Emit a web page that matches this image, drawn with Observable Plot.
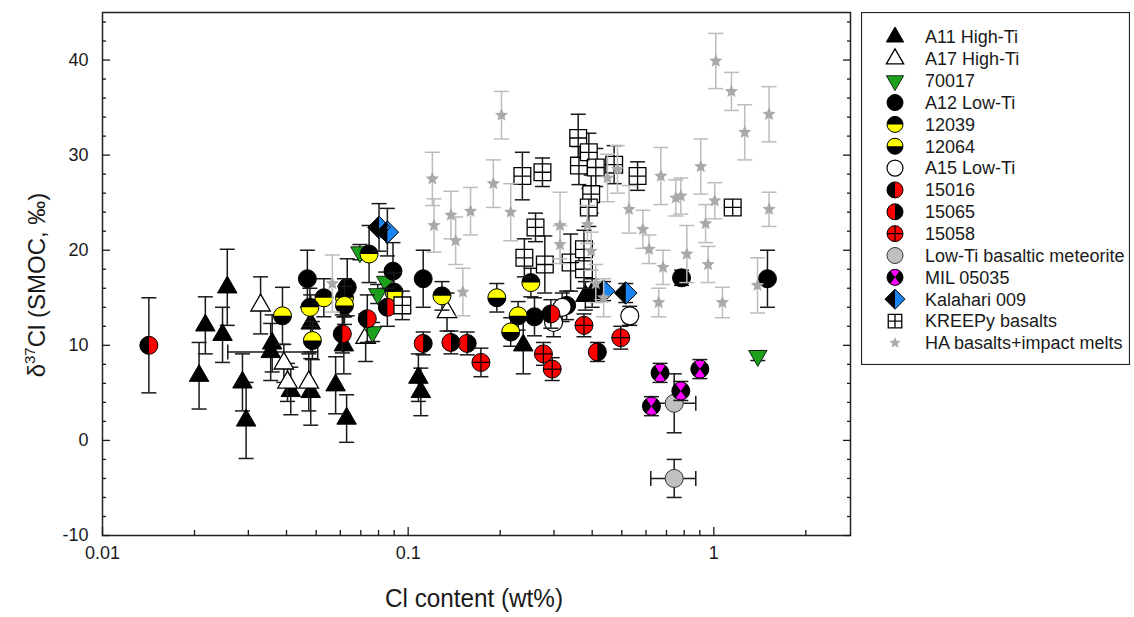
<!DOCTYPE html>
<html><head><meta charset="utf-8">
<script src="https://cdn.jsdelivr.net/npm/d3@7"></script>
<script src="https://cdn.jsdelivr.net/npm/@observablehq/plot@0.6"></script>
<style>
html,body{margin:0;padding:0;background:#fff;}
#wrap{position:relative;width:1134px;height:617px;overflow:hidden;font-family:"Liberation Sans",Arial,sans-serif;}
#wrap svg{display:block;}
#legend{position:absolute;left:861px;top:12px;}
</style></head>
<body><div id="wrap"><div id="legend"></div></div>
<script>
// ---------- data: [Cl wt%, d37Cl, y error, (x low, x high)] ----------
const a11 = [[0.0207,6.8,3.5],[0.0217,12.1,3],[0.0256,16.1,4],[0.0247,11.1,2.9],[0.0287,6.1,3],[0.0295,2.1,4],
  [0.0359,10.2,3],[0.0355,9.3,3,0.0257,0.0506],[0.0413,5.2,2.5],[0.048,5.1,3.5],[0.048,12.3,3],[0.0579,5.8,3],
  [0.0629,2.3,2.5],[0.0616,10.0,3],[0.108,6.6,2.5],[0.110,5.1,2.5],[0.238,10.0,3],[0.38,15.2,1.5],[0.40,15.5,1.5]];
const a17 = [[0.0329,14.2,3],[0.0392,8.1,2],[0.0403,6.1,2],[0.0473,6.1,3],[0.0726,10.8,2.5],[0.134,13.5,2]];
const s70017 = [[0.0695,19.8,0.8],[0.0795,15.4,1],[0.0844,16.7,1],[0.0765,11.4,1],[1.393,8.9,0.5]];
const a12 = [[0.0468,17.0,3],[0.0632,16.1,3],[0.0892,17.8,3],[0.112,17.0,3],[0.259,13.0,2],[0.33,14.2,1.5],[0.784,17.1,0.8],[1.498,17.0,3]];
const s12039 = [[0.0477,14.0,2],[0.053,15.0,2],[0.0619,15.0,2],[0.0745,19.6,3],[0.0899,15.6,2],[0.129,15.2,1.5],[0.252,16.6,1.5]];
const s12064 = [[0.0388,13.1,3],[0.0486,10.5,2],[0.0619,14.2,2],[0.195,15.0,1.5],[0.229,13.1,1.5],[0.2165,11.4,1.5]];
const a15 = [[0.299,12.4,1.5],[0.319,14.0,1.5],[0.531,13.1,1]];
const s15016 = [[0.01418,10.0,5],[0.0609,11.2,2],[0.0735,12.8,2.5],[0.0855,14.0,2],[0.293,13.3,1.5]];
const s15065 = [[0.112,10.2,1.2],[0.138,10.3,1.2],[0.156,10.2,1.2],[0.416,9.3,1]];
const s15058 = [[0.173,8.2,1.5],[0.277,9.1,1.2],[0.296,7.5,1.2],[0.376,12.1,1.2],[0.496,10.8,1.2]];
const meteorite = [[0.742,3.9,3.1,0.622,0.873],[0.742,-4.0,2,0.622,0.873]];
const mil05035 = [[0.667,7.1,1],[0.90,7.5,1],[0.78,5.2,1],[0.625,3.6,1]];
const kalahari = [[0.0803,22.4,2.5],[0.0855,21.9,2.5],[0.436,15.7,1],[0.515,15.5,1]];
const kreep = [[0.0957,14.2,1.5],[0.2364,27.8,2.5],[0.275,28.2,1.5],[0.261,22.4,1.5],[0.24,19.2,2],[0.28,18.5,3],
  [0.36,31.8,2.5],[0.362,28.9,2],[0.39,30.3,2],[0.411,28.7,2],[0.472,29.0,2],[0.563,27.8,1.5],[0.397,25.9,2],
  [0.39,24.5,2],[0.34,18.7,3],[0.376,20.1,2],[0.376,18.0,2],[1.153,24.5,0.5]];
const haMelts = [[0.0565,16.5,3],[0.12,27.5,2.8],[0.1215,22.6,2.8],[0.138,23.7,2.5],[0.143,21.0,2.5],[0.16,24.1,2.5],
  [0.151,15.6,2.5],[0.19,27.0,2.5],[0.202,34.2,2.5],[0.2165,24.0,3],[0.314,22.6,3.5],[0.314,20.6,2],[0.386,22.7,2],
  [0.397,19.9,2],[0.411,16.5,2],[0.436,15.0,2],[0.449,27.6,2.5],[0.484,28.5,2.5],[0.528,24.3,2.5],[0.586,22.2,2],
  [0.614,20.1,1.5],[0.671,27.8,3],[0.682,18.2,1.8],[0.66,14.5,1.5],[0.751,25.5,1.9],[0.78,25.7,1.9],[0.816,19.6,3],
  [0.906,28.8,2.9],[0.94,22.8,2],[0.958,18.5,1.9],[1.007,25.2,1.9],[1.015,39.9,2.9],[1.067,14.5,1.6],[1.142,36.7,2],
  [1.262,32.4,2.9],[1.39,16.3,2.9],[1.516,34.3,2.9],[1.516,24.3,1.8]];

const xTicks = [0.01, 0.1, 1];
const xMinor = [0.02,0.03,0.04,0.05,0.06,0.07,0.08,0.09,0.2,0.3,0.4,0.5,0.6,0.7,0.8,0.9,2];
const yTicks = [-10, 0, 10, 20, 30, 40];
const yMinor = [-8,-6,-4,-2,2,4,6,8,12,14,16,18,22,24,26,28,32,34,36,38,42,44];

// ---------- symbols ----------
const TAU = Math.PI * 2;
const circleF = (c, r) => { c.moveTo(r, 0); c.arc(0, 0, r, 0, TAU); };
const topHalfF = (c, r) => { c.moveTo(-r, 0); c.arc(0, 0, r, Math.PI, TAU); c.closePath(); };
const leftHalfF = (c, r) => { c.moveTo(0, r); c.arc(0, 0, r, Math.PI / 2, Math.PI * 1.5); c.closePath(); };
const triUpF = (c, r) => { const R = r * 1.25; c.moveTo(0, -R); c.lineTo(R * 0.866, R * 0.5); c.lineTo(-R * 0.866, R * 0.5); c.closePath(); };
const triDownF = (c, r) => { const R = r * 1.25; c.moveTo(0, R); c.lineTo(R * 0.866, -R * 0.5); c.lineTo(-R * 0.866, -R * 0.5); c.closePath(); };
const diamondF = (c, r) => { const R = r * 1.25; c.moveTo(0, -R); c.lineTo(R, 0); c.lineTo(0, R); c.lineTo(-R, 0); c.closePath(); };
const diamondLeftF = (c, r) => { const R = r * 1.25; c.moveTo(0, -R); c.lineTo(-R, 0); c.lineTo(0, R); c.closePath(); };
const squareF = (c, r) => { const s = r * 0.9; c.rect(-s, -s, 2 * s, 2 * s); };
const squareCrossF = (c, r) => { const s = r * 0.9; c.moveTo(-s, 0); c.lineTo(s, 0); c.moveTo(0, -s); c.lineTo(0, s); };
const circleCrossF = (c, r) => { c.moveTo(-r, 0); c.lineTo(r, 0); c.moveTo(0, -r); c.lineTo(0, r); };
const hourglassF = (c, r) => {
  const a = 0.95;
  c.moveTo(0, 0); c.lineTo(r * Math.cos(Math.PI + a), r * Math.sin(Math.PI + a)); c.arc(0, 0, r, Math.PI + a, TAU - a); c.closePath();
  c.moveTo(0, 0); c.lineTo(r * Math.cos(a), r * Math.sin(a)); c.arc(0, 0, r, a, Math.PI - a); c.closePath();
};
const starF = (c, r) => {
  const R = r, ri = r * 0.45;
  for (let i = 0; i < 10; i++) {
    const ang = -Math.PI / 2 + i * Math.PI / 5, rr = i % 2 ? ri : R;
    const px = rr * Math.cos(ang), py = rr * Math.sin(ang);
    if (i === 0) c.moveTo(px, py); else c.lineTo(px, py);
  }
  c.closePath();
};
const capHF = (c, r) => { c.moveTo(-r, 0); c.lineTo(r, 0); };
const capVF = (c, r) => { c.moveTo(0, -r); c.lineTo(0, r); };
const sym = f => ({ draw(ctx, size) { f(ctx, Math.sqrt(size / Math.PI)); } });

const RED = "#ff0000", YEL = "#ffff00", GRN = "#1ca01c", BLU = "#1a84f0", MAG = "#ff00ff", LGR = "#c0c0c0", STAR = "#a9a9a9", STARBAR = "#bcbcbc", BAR = "#1a1a1a";
const outline = { f: circleF, fill: "none", stroke: "#000", sw: 1 };

const series = [
  { name: "A11 High-Ti", data: a11, r: 9, bar: BAR, layers: [{ f: triUpF, fill: "#000", stroke: "#000", sw: 1 }] },
  { name: "A17 High-Ti", data: a17, r: 9, bar: BAR, layers: [{ f: triUpF, fill: "#fff", stroke: "#000", sw: 1.3 }] },
  { name: "70017", data: s70017, r: 8.5, bar: BAR, layers: [{ f: triDownF, fill: GRN, stroke: "#000", sw: 0.8 }] },
  { name: "A12 Low-Ti", data: a12, r: 9, bar: BAR, layers: [{ f: circleF, fill: "#000", stroke: "#000", sw: 1 }] },
  { name: "12039", data: s12039, r: 9, bar: BAR, layers: [{ f: circleF, fill: YEL, stroke: "none" }, { f: topHalfF, fill: "#000", stroke: "none" }, outline] },
  { name: "12064", data: s12064, r: 9, bar: BAR, layers: [{ f: circleF, fill: "#000", stroke: "none" }, { f: topHalfF, fill: YEL, stroke: "none" }, outline] },
  { name: "A15 Low-Ti", data: a15, r: 9, bar: BAR, layers: [{ f: circleF, fill: "#fff", stroke: "#000", sw: 1.2 }] },
  { name: "15016", data: s15016, r: 9, bar: BAR, layers: [{ f: circleF, fill: RED, stroke: "none" }, { f: leftHalfF, fill: "#000", stroke: "none" }, outline] },
  { name: "15065", data: s15065, r: 9, bar: BAR, layers: [{ f: circleF, fill: "#000", stroke: "none" }, { f: leftHalfF, fill: RED, stroke: "none" }, outline] },
  { name: "15058", data: s15058, r: 9, bar: BAR, layers: [{ f: circleF, fill: RED, stroke: "#000", sw: 1 }, { f: circleCrossF, fill: "none", stroke: "#000", sw: 1.2 }] },
  { name: "Low-Ti basaltic meteorite", data: meteorite, r: 9, bar: BAR, layers: [{ f: circleF, fill: LGR, stroke: "#333", sw: 1 }] },
  { name: "MIL 05035", data: mil05035, r: 9, bar: BAR, layers: [{ f: circleF, fill: "#000", stroke: "none" }, { f: hourglassF, fill: MAG, stroke: "none" }, outline] },
  { name: "Kalahari 009", data: kalahari, r: 9, bar: BAR, layers: [{ f: diamondF, fill: BLU, stroke: "none" }, { f: diamondLeftF, fill: "#000", stroke: "none" }, { f: diamondF, fill: "none", stroke: "#000", sw: 1 }] },
  { name: "KREEPy basalts", data: kreep, r: 9.3, bar: BAR, layers: [{ f: squareF, fill: "#fff", stroke: "#000", sw: 1.3 }, { f: squareCrossF, fill: "none", stroke: "#000", sw: 1.3 }] },
  { name: "HA basalts+impact melts", data: haMelts, r: 7, bar: STARBAR, layers: [{ f: starF, fill: STAR, stroke: "none" }] }
];

// ---------- marks ----------
const marks = [];
for (const s of series) {
  const d = s.data.map(([x, y, e, x1, x2]) => ({ x, y, e, x1, x2 }));
  const de = d.filter(p => p.e > 0);
  const dx = d.filter(p => p.x1 != null);
  marks.push(Plot.ruleX(de, { x: "x", y1: p => p.y - p.e, y2: p => p.y + p.e, stroke: s.bar, strokeWidth: 1.5 }));
  marks.push(Plot.dot(de, { x: "x", y: p => p.y + p.e, r: 7.5, symbol: sym(capHF), stroke: s.bar, strokeWidth: 1.5, fill: "none" }));
  marks.push(Plot.dot(de, { x: "x", y: p => p.y - p.e, r: 7.5, symbol: sym(capHF), stroke: s.bar, strokeWidth: 1.5, fill: "none" }));
  if (dx.length) {
    marks.push(Plot.ruleY(dx, { y: "y", x1: "x1", x2: "x2", stroke: s.bar, strokeWidth: 1.5 }));
    marks.push(Plot.dot(dx, { x: "x1", y: "y", r: 7.5, symbol: sym(capVF), stroke: s.bar, strokeWidth: 1.5, fill: "none" }));
    marks.push(Plot.dot(dx, { x: "x2", y: "y", r: 7.5, symbol: sym(capVF), stroke: s.bar, strokeWidth: 1.5, fill: "none" }));
  }
  for (const L of s.layers) {
    marks.push(Plot.dot(d, { x: "x", y: "y", r: s.r, symbol: sym(L.f), fill: L.fill, stroke: L.stroke, strokeWidth: L.sw || 1 }));
  }
}

const blank = () => "";
const plot = Plot.plot({
  width: 1134, height: 617,
  marginLeft: 102, marginRight: 284, marginTop: 12, marginBottom: 82,
  x: { type: "log", domain: [0.01, 2.8], label: null },
  y: { domain: [-10, 45], label: null },
  style: { fontFamily: "'Liberation Sans', Arial, sans-serif", fontSize: "18px", color: "#1a1a1a", background: "#fff", overflow: "visible" },
  marks: [
    ...marks,
    Plot.frame({ stroke: "#222", strokeWidth: 1.5 }),
    Plot.axisX({ ticks: xTicks, tickSize: -8, tickFormat: blank, label: null, strokeWidth: 1.3 }),
    Plot.axisX({ ticks: xMinor, tickSize: -5, tickFormat: blank, label: null, strokeWidth: 1.3 }),
    Plot.axisX({ ticks: xTicks, tickSize: 0, tickPadding: 11, tickFormat: d => String(d), label: null }),
    Plot.axisY({ ticks: yTicks, tickSize: -8, tickFormat: blank, label: null, strokeWidth: 1.3 }),
    Plot.axisY({ ticks: yMinor, tickSize: -4, tickFormat: blank, label: null, strokeWidth: 1.3 }),
    Plot.axisY({ anchor: "right", ticks: yTicks, tickSize: -8, tickFormat: blank, label: null, strokeWidth: 1.3 }),
    Plot.axisY({ anchor: "right", ticks: yMinor, tickSize: -4, tickFormat: blank, label: null, strokeWidth: 1.3 }),
    Plot.axisY({ ticks: yTicks, tickSize: 0, tickPadding: 14, tickFormat: d => String(d), label: null })
  ]
});
const wrap = document.getElementById("wrap");
wrap.insertBefore(plot, wrap.firstChild);

// axis titles
const sv = d3.select(plot);
sv.append("text").attr("x", 474).attr("y", 607).attr("text-anchor", "middle")
  .attr("font-size", 25).attr("fill", "#1a1a1a").attr("textLength", 178).attr("lengthAdjust", "spacingAndGlyphs")
  .text("Cl content (wt%)");
const yl = sv.append("text").attr("transform", "translate(45,285) rotate(-90)").attr("text-anchor", "middle")
  .attr("font-size", 24).attr("fill", "#1a1a1a");
yl.append("tspan").text("δ");
yl.append("tspan").attr("font-size", 15).attr("dy", -10).text("37");
yl.append("tspan").attr("dy", 10).text("Cl (SMOC, ‰)");

// legend
const LW = 269, LH = 353;
const lg = d3.select("#legend").append("svg").attr("width", LW).attr("height", LH)
  .style("font-family", "'Liberation Sans', Arial, sans-serif");
lg.append("rect").attr("x", 0.5).attr("y", 0.5).attr("width", LW - 1).attr("height", LH - 1).attr("fill", "#fff").attr("stroke", "#222").attr("stroke-width", 1.2);
series.forEach((s, i) => {
  const cy = 25 + i * 21.85;
  const g = lg.append("g").attr("transform", `translate(34,${cy})`);
  const lr = s.name.startsWith("HA") ? 6 : (s.name.startsWith("KREEP") ? 7.5 : 8);
  for (const L of s.layers) {
    const p = d3.path(); L.f(p, lr);
    g.append("path").attr("d", p.toString()).attr("fill", L.fill).attr("stroke", L.stroke).attr("stroke-width", L.sw || 1);
  }
  lg.append("text").attr("x", 64).attr("y", cy).attr("dy", "0.35em").attr("font-size", 18).attr("fill", "#1a1a1a").text(s.name);
});
</script></body></html>
